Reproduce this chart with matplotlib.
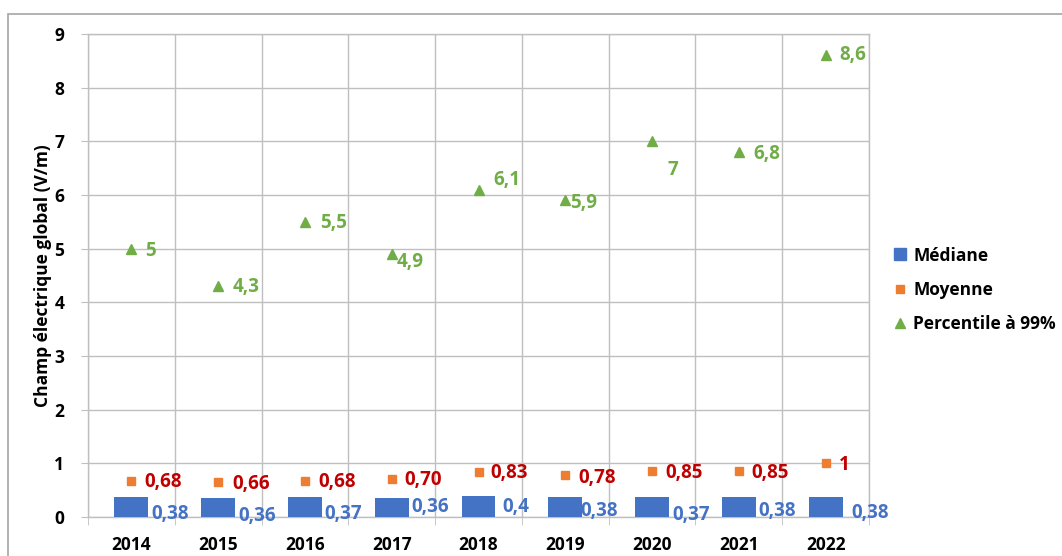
import matplotlib.pyplot as plt
from matplotlib.lines import Line2D
from matplotlib.patches import Rectangle

plt.rcParams['font.family'] = ['Open Sans', 'DejaVu Sans']
plt.rcParams['font.weight'] = 'bold'

# data
years = ['2014', '2015', '2016', '2017', '2018', '2019', '2020', '2021', '2022']
mediane = [0.38, 0.36, 0.37, 0.36, 0.40, 0.38, 0.37, 0.38, 0.38]
moyenne = [0.68, 0.66, 0.68, 0.70, 0.83, 0.78, 0.85, 0.85, 1.00]
p99 = [5.0, 4.3, 5.5, 4.9, 6.1, 5.9, 7.0, 6.8, 8.6]
mediane_txt = ['0,38', '0,36', '0,37', '0,36', '0,4', '0,38', '0,37', '0,38', '0,38']
moyenne_txt = ['0,68', '0,66', '0,68', '0,70', '0,83', '0,78', '0,85', '0,85', '1']
p99_txt = ['5', '4,3', '5,5', '4,9', '6,1', '5,9', '7', '6,8', '8,6']

# label offsets in pixels (dx right, dy down), placed by hand like in Excel
med_off = [(20, 17), (20, 18), (19, 17), (20, 9), (24, 11), (15, 14), (20, 18), (20, 14), (26, 16)]
moy_off = [(13, 1), (14, 2), (13, 1), (13, 1), (12, 1), (13, 3), (13, 2), (13, 2), (13, 2)]
p99_off = [(14, 2), (14, 1), (15, 1), (5, 8), (15, -10), (5, 3), (15, 29), (15, 2), (14, 0)]

blue = '#4472C4'
orange = '#ED7D31'
green = '#70AD47'
red = '#C00000'
grid_c = '#BFBFBF'

fig = plt.figure(figsize=(10.62, 5.56), dpi=100)
ax = fig.add_axes([88 / 1062, 1 - 517 / 556, (869 - 88) / 1062, (517 - 34) / 556])

x = list(range(len(years)))
ax.bar(x, mediane, width=0.39, color=blue, zorder=3)
ax.plot(x, moyenne, 's', color=orange, markersize=5.5, zorder=4)
ax.plot(x, p99, '^', color=green, markersize=7, zorder=4)

px = 72 / 100
fs = 13.5
for i in x:
    ax.annotate(mediane_txt[i], (i, mediane[i]), xytext=(med_off[i][0] * px, -med_off[i][1] * px),
                textcoords='offset points', ha='left', va='center', color=blue, fontsize=fs, fontweight='bold')
    ax.annotate(moyenne_txt[i], (i, moyenne[i]), xytext=(moy_off[i][0] * px, -moy_off[i][1] * px),
                textcoords='offset points', ha='left', va='center', color=red, fontsize=fs, fontweight='bold')
    ax.annotate(p99_txt[i], (i, p99[i]), xytext=(p99_off[i][0] * px, -p99_off[i][1] * px),
                textcoords='offset points', ha='left', va='center', color=green, fontsize=fs, fontweight='bold')

ax.set_xlim(-0.5, len(years) - 0.5)
ax.set_ylim(0, 9)
ax.set_yticks(range(0, 10))
ax.set_xticks(x)
ax.set_xticklabels(years, fontsize=12.5, fontweight='bold')
ax.set_xticks([i - 0.5 for i in range(len(years) + 1)], minor=True)
ax.tick_params(axis='x', which='major', length=0, pad=14)
ax.tick_params(axis='x', which='minor', length=6, color=grid_c, direction='out')
ax.tick_params(axis='y', length=5, color=grid_c, labelsize=12.5, pad=12)
for lab in ax.get_yticklabels():
    lab.set_fontweight('bold')
ax.grid(True, axis='y', color=grid_c, linewidth=1, zorder=0)
ax.grid(True, axis='x', which='minor', color=grid_c, linewidth=1, zorder=0)
for s in ax.spines.values():
    s.set_color(grid_c)
    s.set_linewidth(1)

ax.set_ylabel('Champ électrique global (V/m)', fontsize=12.5, fontweight='bold', labelpad=2)

handles = [
    Line2D([], [], marker='s', linestyle='none', color=blue, markersize=9),
    Line2D([], [], marker='s', linestyle='none', color=orange, markersize=5.5),
    Line2D([], [], marker='^', linestyle='none', color=green, markersize=7),
]
fig.legend(handles, ['Médiane', 'Moyenne', 'Percentile à 99%'], loc='center left',
           bbox_to_anchor=(877 / 1062, 1 - 290 / 556), frameon=False,
           handlelength=0.8, handletextpad=0.4, labelspacing=0.95, prop={'weight': 'bold', 'size': 12.5})

# outer chart border
fig.add_artist(Rectangle((8 / 1062, -0.05), 1.2, 1 - 14 / 556 + 0.05, transform=fig.transFigure,
                         fill=False, edgecolor='#A6A6A6', linewidth=1.2))

fig.savefig('out.png', dpi=100)
